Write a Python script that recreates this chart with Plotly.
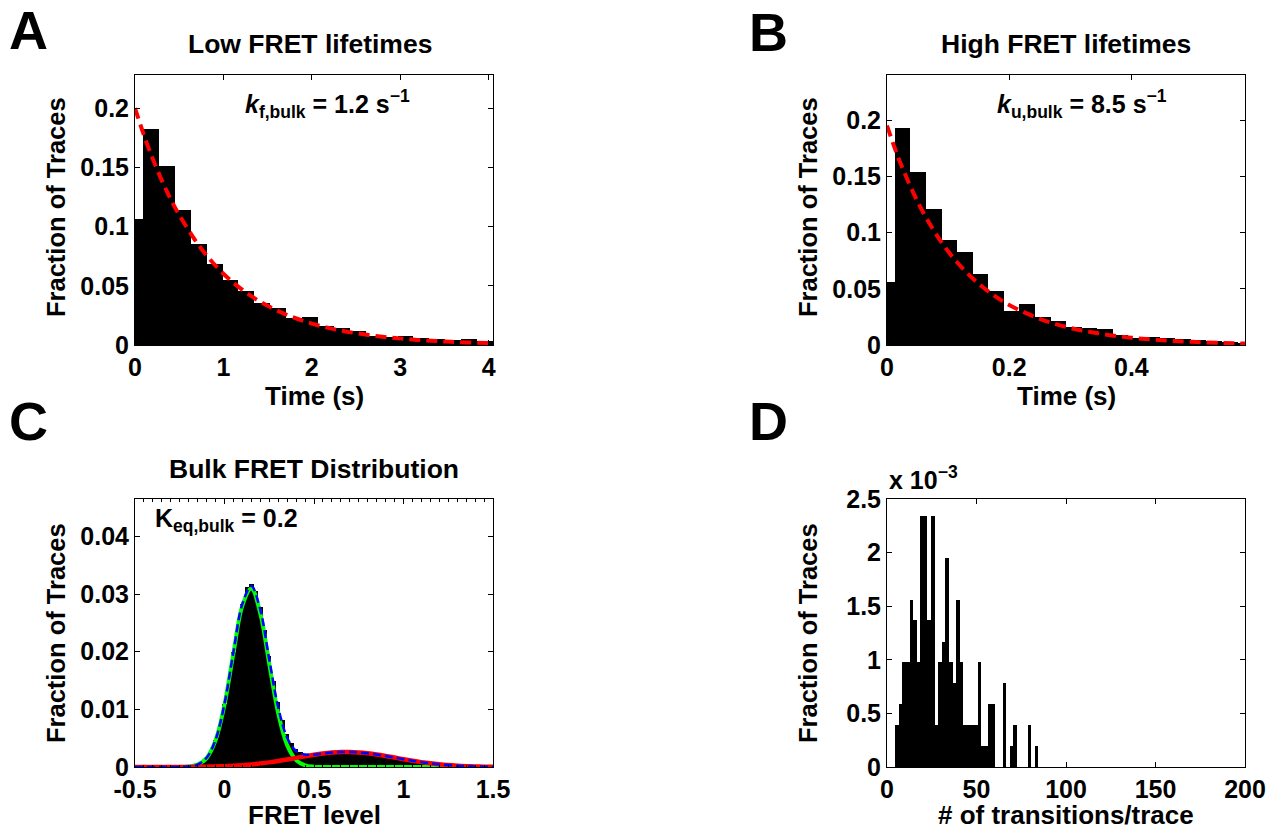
import numpy as np
import plotly.graph_objects as go

W, H = 1269, 829
FONT = "Liberation Sans, Arial, Helvetica, sans-serif"

# ---------------- Panel A: Low FRET lifetimes ----------------
A_BIN_WIDTH = 0.18
A_HIST = [0.106, 0.1825, 0.1515, 0.114, 0.0856, 0.068, 0.0552, 0.0456, 0.0358, 0.0315,
          0.0225, 0.0234, 0.016, 0.0144, 0.0118, 0.0076, 0.007, 0.0076, 0.0056, 0.0048,
          0.0042, 0.0048, 0.003]
A_FIT_X = [0, 0.125, 0.25, 0.375, 0.5, 0.75, 1.0, 1.25, 1.5, 1.75, 2.0, 2.25, 2.5, 2.75,
           3.0, 3.25, 3.5, 3.75, 4.05]
A_FIT_Y = [0.200, 0.1721, 0.1482, 0.1275, 0.1098, 0.0813, 0.0602, 0.0446, 0.0331, 0.0245,
           0.0181, 0.0134, 0.0100, 0.0074, 0.0055, 0.0040, 0.0030, 0.0022, 0.0016]

# ---------------- Panel B: High FRET lifetimes ----------------
B_BIN_WIDTH = 0.0255
B_HIST = [0.0556, 0.1925, 0.1536, 0.121, 0.0936, 0.0829, 0.0627, 0.0481, 0.0306, 0.0365,
          0.0247, 0.0214, 0.0163, 0.0149, 0.0143, 0.0089, 0.006, 0.0068, 0.006, 0.005,
          0.0045, 0.0036, 0.003, 0.002]
B_FIT_X = [0, 0.0125, 0.025, 0.05, 0.075, 0.1, 0.125, 0.15, 0.175, 0.2, 0.25, 0.3, 0.35,
           0.4, 0.45, 0.5, 0.55, 0.586]
B_FIT_Y = [0.195, 0.1753, 0.1577, 0.1275, 0.1031, 0.0833, 0.0674, 0.0545, 0.0441, 0.0356,
           0.0233, 0.0152, 0.0100, 0.0065, 0.0043, 0.0028, 0.0018, 0.0013]

# ---------------- Panel C: Bulk FRET distribution ----------------
C_BIN_WIDTH = 0.025
C_BIN_START = -0.25
C_HIST = [0.00002, 0.00005, 0.0001, 0.0002, 0.00043, 0.00085, 0.0016, 0.0028, 0.0047, 0.0074,
          0.0109, 0.0152, 0.0199, 0.0245, 0.0283, 0.0312, 0.0318, 0.0305, 0.0277, 0.0237,
          0.0193, 0.015, 0.0113, 0.0082, 0.0058, 0.0042, 0.0031, 0.0026, 0.0022, 0.0021,
          0.0022, 0.0023, 0.0023, 0.0024, 0.0025, 0.0025, 0.0026, 0.0026, 0.0026, 0.0025,
          0.0025, 0.0024, 0.0023, 0.0022, 0.0021, 0.002, 0.0019, 0.0017, 0.0016, 0.0015,
          0.0013, 0.0012, 0.0011, 0.00095, 0.00085, 0.00074, 0.00064, 0.00055, 0.00046, 0.00039,
          0.00033, 0.00027, 0.00022, 0.00018, 0.00015]
C_FIT_X = [-0.5, -0.45, -0.4, -0.35, -0.3, -0.25, -0.2, -0.15, -0.1, -0.05,
           0.0, 0.05, 0.1, 0.15, 0.2, 0.25, 0.3, 0.35, 0.4, 0.45,
           0.5, 0.55, 0.6, 0.65, 0.7, 0.75, 0.8, 0.85, 0.9, 0.95,
           1.0, 1.05, 1.1, 1.15, 1.2, 1.25, 1.3, 1.35, 1.4, 1.45, 1.5]
C_LOW_FIT = [0, 0, 0, 0, 0.000002, 0.000013, 0.000081, 0.0004, 0.00154, 0.00463,
             0.01083, 0.01974, 0.02801, 0.03096, 0.02665, 0.01787, 0.00933, 0.00379, 0.0012, 0.000296,
             0.000057, 0.000009, 0.000001, 0, 0, 0, 0, 0, 0, 0,
             0, 0, 0, 0, 0, 0, 0, 0, 0, 0, 0]
C_HIGH_FIT = [0, 0.000001, 0.000002, 0.000003, 0.000006, 0.000011, 0.000019, 0.000032, 0.000054, 0.000087,
              0.000137, 0.000207, 0.000305, 0.000434, 0.000599, 0.0008, 0.001036, 0.0013, 0.001578, 0.001856,
              0.002115, 0.002335, 0.002496, 0.002585, 0.002593, 0.00252, 0.002372, 0.002163, 0.001911, 0.001634,
              0.001355, 0.001087, 0.000845, 0.000637, 0.000464, 0.000328, 0.000225, 0.000149, 0.000096, 0.00006,
              0.000036]
C_SUM_FIT = [0, 0.000001, 0.000002, 0.000003, 0.000008, 0.000024, 0.0001, 0.000432, 0.001594, 0.004717,
             0.010967, 0.019947, 0.028315, 0.031394, 0.027249, 0.01867, 0.010366, 0.00509, 0.002778, 0.002152,
             0.002172, 0.002344, 0.002497, 0.002585, 0.002593, 0.00252, 0.002372, 0.002163, 0.001911, 0.001634,
             0.001355, 0.001087, 0.000845, 0.000637, 0.000464, 0.000328, 0.000225, 0.000149, 0.000096, 0.00006,
             0.000036]

# ---------------- Panel D: transitions per trace ----------------
D_BIN_WIDTH = 2.0
D_BIN_START = 4.6
D_HIST = [0.00039, 0.000586, 0.000977, 0.000977, 0.00156, 0.00137, 0.000977, 0.00234, 0.00234, 0.00137,
          0.00234, 0.00039, 0.000977, 0.00117, 0.00195, 0.000977, 0.00078, 0.00156, 0.000977, 0.00039,
          0.00039, 0.00039, 0.00039, 0.000977, 0.000195, 0.000195, 0.000586, 0.000586, 0, 0,
          0.00078, 0, 0.000195, 0.00039, 0, 0, 0, 0.00039, 0, 0.000195]

a_x = np.arange(len(A_HIST)) * A_BIN_WIDTH
b_x = np.arange(len(B_HIST)) * B_BIN_WIDTH
c_x = C_BIN_START + np.arange(len(C_HIST)) * C_BIN_WIDTH
d_x = D_BIN_START + D_BIN_WIDTH / 2 + np.arange(len(D_HIST)) * D_BIN_WIDTH


def px(x, y):
    return x / W, 1 - y / H


fig = go.Figure()
# A
fig.add_trace(go.Bar(x=a_x, y=A_HIST, width=A_BIN_WIDTH, marker=dict(color="black", line=dict(width=0)),
                     xaxis="x", yaxis="y"))
fig.add_trace(go.Scatter(x=A_FIT_X, y=A_FIT_Y, mode="lines", line=dict(color="red", width=4, dash="11px,6px", shape="spline"),
                         xaxis="x", yaxis="y"))
# B
fig.add_trace(go.Bar(x=b_x, y=B_HIST, width=B_BIN_WIDTH, marker=dict(color="black", line=dict(width=0)),
                     xaxis="x2", yaxis="y2"))
fig.add_trace(go.Scatter(x=B_FIT_X, y=B_FIT_Y, mode="lines", line=dict(color="red", width=4, dash="11px,6px", shape="spline"),
                         xaxis="x2", yaxis="y2"))
# C
fig.add_trace(go.Bar(x=c_x, y=C_HIST, width=C_BIN_WIDTH, marker=dict(color="black", line=dict(width=0)),
                     xaxis="x3", yaxis="y3"))
fig.add_trace(go.Scatter(x=C_FIT_X, y=C_LOW_FIT, mode="lines", line=dict(color="#00ff00", width=4, shape="spline"),
                         xaxis="x3", yaxis="y3"))
fig.add_trace(go.Scatter(x=C_FIT_X, y=C_HIGH_FIT, mode="lines", line=dict(color="#ff0000", width=4.5, shape="spline"),
                         xaxis="x3", yaxis="y3"))
fig.add_trace(go.Scatter(x=C_FIT_X, y=C_SUM_FIT, mode="lines", line=dict(color="#0000ff", width=2.5, dash="8px,4px", shape="spline"),
                         xaxis="x3", yaxis="y3"))
# D
fig.add_trace(go.Bar(x=d_x, y=D_HIST, width=D_BIN_WIDTH, marker=dict(color="black", line=dict(width=0)),
                     xaxis="x4", yaxis="y4"))

tickfont = dict(family=FONT, size=25, color="black", weight="bold")


def ax(domain, rng, tickvals, ticktext=None, anchor=None, standoff=0, minor=None):
    d = dict(domain=domain, range=rng, tickmode="array", tickvals=tickvals,
             showline=True, linecolor="black", linewidth=1, mirror="ticks",
             ticks="inside", ticklen=5, tickcolor="black", tickwidth=1,
             showgrid=False, zeroline=False, tickfont=tickfont, anchor=anchor,
             ticklabelstandoff=standoff, automargin=False)
    if ticktext is not None:
        d["ticktext"] = ticktext
    if minor is not None:
        d["minor"] = minor
    return d


xl, _ = px(135, 0)
xr, _ = px(493, 0)
xl2, _ = px(887, 0)
xr2, _ = px(1245, 0)
_, yt_top = px(0, 75)
_, yb_top = px(0, 345)
_, yt_bot = px(0, 499)
_, yb_bot = px(0, 767)

fig.update_layout(
    width=W, height=H, margin=dict(l=0, r=0, t=0, b=0, autoexpand=False),
    paper_bgcolor="white", plot_bgcolor="white", showlegend=False, bargap=0,
    xaxis=ax([xl, xr], [0, 4.05], [0, 1, 2, 3, 4], anchor="y"),
    yaxis=ax([yb_top, yt_top], [0, 0.228], [0, 0.05, 0.1, 0.15, 0.2], anchor="x"),
    xaxis2=ax([xl2, xr2], [0, 0.586], [0, 0.2, 0.4], anchor="y2"),
    yaxis2=ax([yb_top, yt_top], [0, 0.24], [0, 0.05, 0.1, 0.15, 0.2], anchor="x2"),
    xaxis3=ax([xl, xr], [-0.5, 1.5], [-0.5, 0, 0.5, 1, 1.5], ["-0.5", "0", "0.5", "1", "1.5"], anchor="y3",
              minor=dict(dtick=0.05, ticklen=2.5, ticks="inside", tickcolor="black", showgrid=False)),
    yaxis3=ax([yb_bot, yt_bot], [0, 0.0465], [0, 0.01, 0.02, 0.03, 0.04], anchor="x3"),
    xaxis4=ax([xl2, xr2], [0, 200], [0, 50, 100, 150, 200], anchor="y4"),
    yaxis4=ax([yb_bot, yt_bot], [0, 0.0025], [0, 0.0005, 0.001, 0.0015, 0.002, 0.0025],
              ["0", "0.5", "1", "1.5", "2", "2.5"], anchor="x4"),
)

ann = []


def text(s, x, y, size, xanchor="center", yanchor="middle", angle=0):
    xp, yp = px(x, y)
    ann.append(dict(text=s, x=xp, y=yp, xref="paper", yref="paper", showarrow=False,
                    xanchor=xanchor, yanchor=yanchor, textangle=angle,
                    font=dict(family=FONT, size=size, color="black", weight="bold")))


# panel letters
text("A", 28, 30, 54)
text("B", 768, 32, 54)
text("C", 28, 421, 54)
text("D", 768, 421, 54)
# titles
text("Low FRET lifetimes", 310, 44, 26.5)
text("High FRET lifetimes", 1066, 44, 26.5)
text("Bulk FRET Distribution", 314, 469, 26.5)
# axis titles
text("Fraction of Traces", 56, 207, 25.5, angle=-90)
text("Fraction of Traces", 808, 207, 25.5, angle=-90)
text("Fraction of Traces", 56, 633, 25.5, angle=-90)
text("Fraction of Traces", 808, 633, 25.5, angle=-90)
text("Time (s)", 314, 396, 26)
text("Time (s)", 1066, 396, 26)
text("FRET level", 314, 815, 26)
text("# of transitions/trace", 1066, 815, 26)
# fit annotations
text("<i>k</i><sub>f,bulk</sub> = 1.2 s<sup>\u22121</sup>", 243, 104, 25, xanchor="left")
text("<i>k</i><sub>u,bulk</sub> = 8.5 s<sup>\u22121</sup>", 995, 104, 25, xanchor="left")
text("K<sub>eq,bulk</sub> = 0.2", 153, 520, 25, xanchor="left")
text("x 10<sup>\u22123</sup>", 887, 478, 25, xanchor="left")

fig.update_layout(annotations=ann)
fig.write_html("out.html", config={"displayModeBar": False},
               post_script="document.body.style.margin='0px';document.body.style.overflow='hidden';")
